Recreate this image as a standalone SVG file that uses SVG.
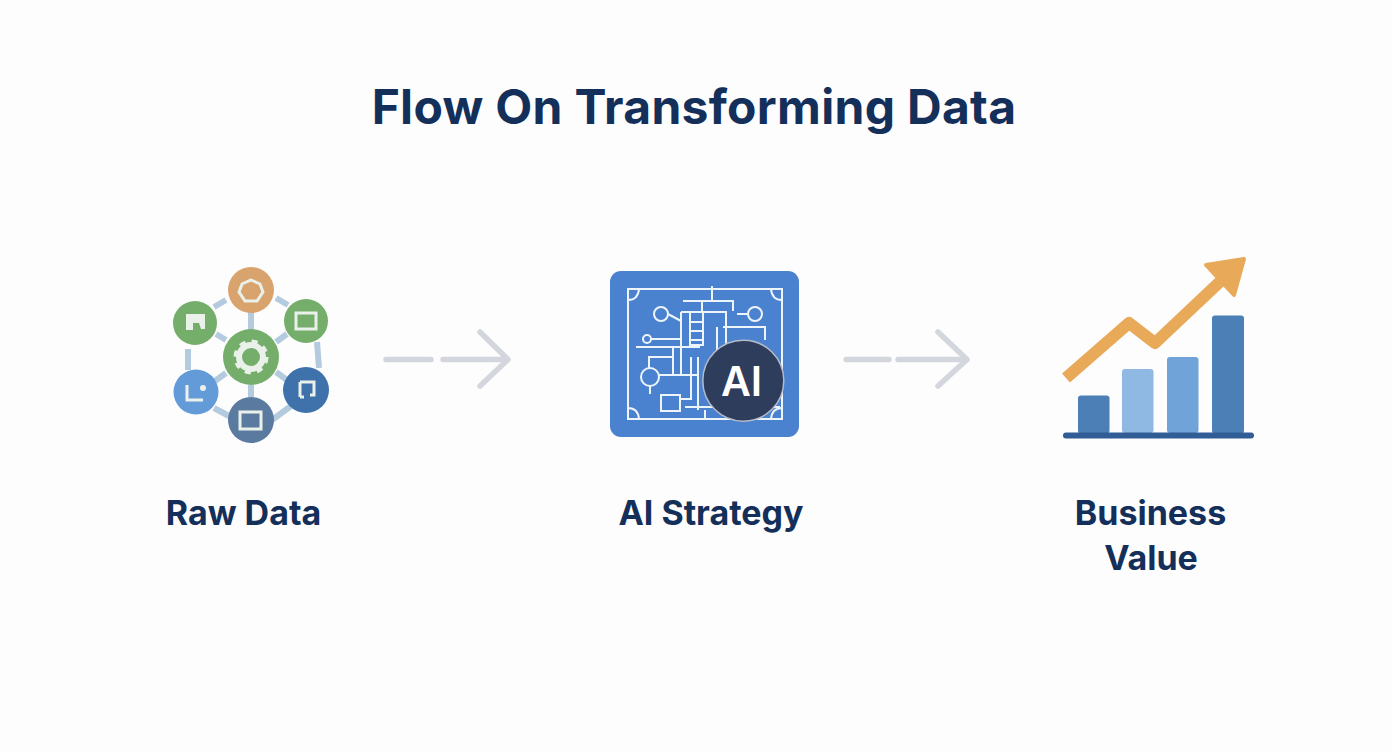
<svg xmlns="http://www.w3.org/2000/svg" width="1392" height="752" viewBox="0 0 1392 752">
<style>
text{font-family:"Inter","Liberation Sans",sans-serif;font-weight:700;fill:#14305a;text-anchor:middle}
.title{font-size:48px;letter-spacing:0.300px}
.lbl{font-size:34px}
.arr{fill:none;stroke:#d3d6dc;stroke-width:5.500;stroke-linecap:round;stroke-linejoin:round}
.lnk{fill:none;stroke:#b4cbdf;stroke-width:6}
.ic{fill:none;stroke:#e9f1ea;stroke-width:3}
.bp{fill:none;stroke:#eef4fb;stroke-width:2}
</style>
<rect width="1392" height="752" fill="#fdfdfe"/>
<text id="title" class="title" x="694" y="124">Flow On Transforming Data</text>
<g id="raw-data">
<g class="lnk">
<path d="M251 312V330M226 300L214 307M276 298L288 305M188 349V370M317 342L319 368M226 340L216 334M276 342L287 334M226 373L215 381M276 372L287 380M251 385V397M214 408L229 416M291 406L272 420"/>
</g>
<circle cx="251" cy="290" r="23" fill="#d9a36e"/>
<path class="ic" d="M251 280l9 4 3 8-6 9-12 0-6-9 3-8z"/>
<circle cx="306" cy="321" r="22" fill="#74ae6a"/>
<rect class="ic" x="296" y="313" width="20" height="16"/>
<circle cx="195" cy="323" r="22" fill="#74ae6a"/>
<path d="M186 314h19v15h-4l-2-6h-6v7h-7z" fill="#e9f1ea"/>
<circle cx="196" cy="392" r="22.500" fill="#639bd8"/>
<path class="ic" d="M187 385v15h16"/>
<circle cx="203" cy="388" r="3" fill="#e9f1ea"/>
<circle cx="306" cy="390" r="23" fill="#3f71aa"/>
<path class="ic" d="M300 382h14v13h-4M304 397h-4z M300 382v15"/>
<circle cx="251" cy="420" r="23" fill="#5a7a9f"/>
<rect class="ic" x="240" y="412" width="21" height="17"/>
<circle cx="251" cy="357" r="28" fill="#74ae6a"/>
<circle cx="251" cy="357" r="12" fill="none" stroke="#e9f1ea" stroke-width="6"/>
<circle cx="251" cy="357" r="15.500" fill="none" stroke="#e9f1ea" stroke-width="4" stroke-dasharray="6 6.200"/>
<text class="lbl" x="243.500" y="525">Raw Data</text>
</g>
<g id="connectors">
<path class="arr" d="M386 359.500H431M443 359.500H507M480 332L508 359.500L480 386"/>
<path class="arr" d="M846 359.500H889M898 359.500H966M938 332L967 359.500L938 386"/>
</g>
<g id="ai-strategy">
<rect x="610" y="271" width="189" height="166" rx="11" fill="#4a82cf"/>
<g class="bp">
<rect x="628" y="289" width="154" height="130"/>
<path d="M628 300q10 0 11-11M782 300q-10 0-11-11M628 408q10 0 11 11M782 408q-10 0-11 11"/>
<circle cx="661" cy="314" r="7"/><circle cx="755" cy="314" r="7"/><circle cx="647" cy="339" r="4"/><circle cx="650" cy="377" r="9"/>
<path d="M683 301H733V311M712 286V301M702 301V312M668 314L681 321M737 314H748M681 312V375H698M681 312H726V345M690 312V345H703V312M690 322H703M690 331H703M690 340H703M651 339H681M636 347H700M673 347V375M649 368V357H673M659 375H681M723 327H765V340M717 327V360M691 357V399H680M698 357V410M650 386V394M661 395H680V411H661ZM685 407H780M705 410V419"/>
</g>
<circle cx="743.300" cy="380.700" r="40.500" fill="#2f3d5d" stroke="#b5bcc8" stroke-width="1.500"/>
<text x="741.500" y="396" style="font-size:41px;fill:#fff;font-weight:600">AI</text>
<text class="lbl" x="711" y="525">AI Strategy</text>
</g>
<g id="business-value">
<rect x="1078" y="395.500" width="31.500" height="38" rx="3" fill="#4b7fb5"/>
<rect x="1122" y="369" width="31.500" height="64" rx="3" fill="#8fb8e3"/>
<rect x="1167" y="357" width="31.500" height="76" rx="3" fill="#70a3d8"/>
<rect x="1212" y="315.500" width="32" height="118" rx="3" fill="#4b7fb5"/>
<rect x="1063" y="432.500" width="191" height="6" rx="3" fill="#305d96"/>
<path d="M1066 378L1129 323L1155 343L1226 276" fill="none" stroke="#e8aa58" stroke-width="12" stroke-linejoin="round"/>
<path d="M1244 259L1206 265L1234 295Z" fill="#e8aa58" stroke="#e8aa58" stroke-width="4" stroke-linejoin="round"/>
<text class="lbl" x="1150.500" y="525">Business</text>
<text class="lbl" x="1151" y="570">Value</text>
</g>
</svg>
